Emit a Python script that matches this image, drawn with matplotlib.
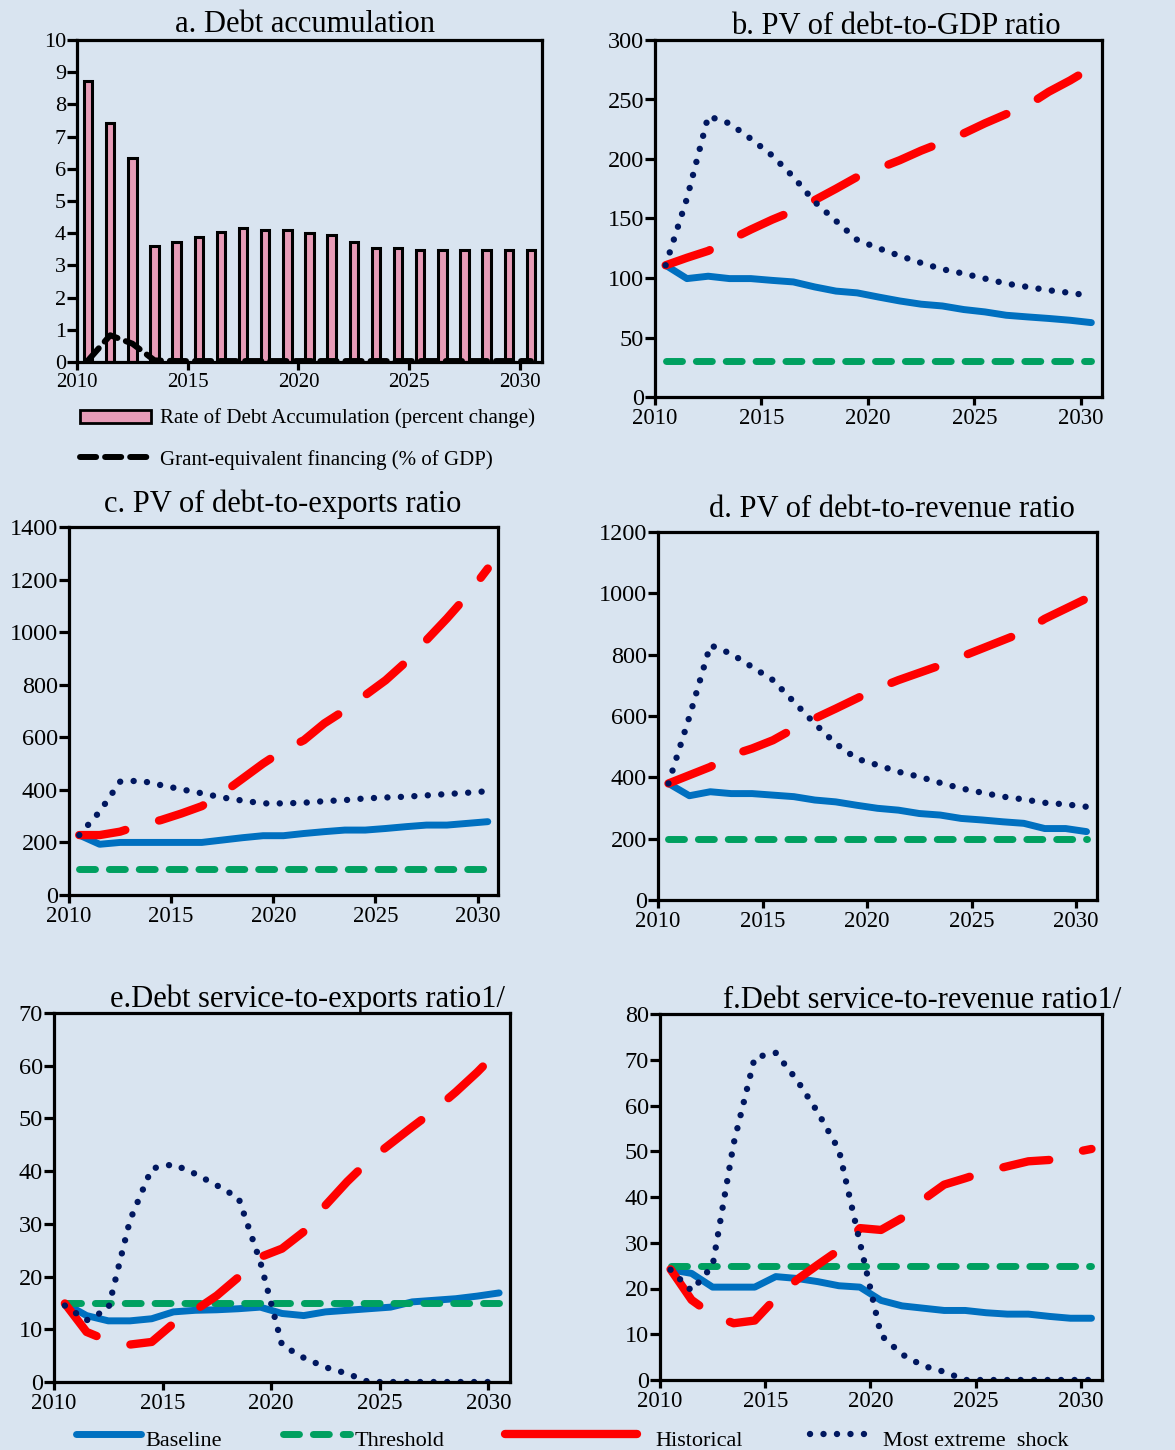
import numpy as np
import matplotlib
matplotlib.use("Agg")
import matplotlib.pyplot as plt
from matplotlib.lines import Line2D
from matplotlib.patches import Rectangle

plt.rcParams['font.family'] = ['Liberation Serif', 'DejaVu Serif']

# ---------------- data ----------------
years = np.arange(2010, 2031)
tick_years = [2010, 2015, 2020, 2025, 2030]

# a. Debt accumulation
debt_accum = [8.73, 7.41, 6.34, 3.60, 3.72, 3.89, 4.05, 4.17, 4.11, 4.11, 4.01,
              3.94, 3.72, 3.53, 3.53, 3.48, 3.48, 3.48, 3.48, 3.48, 3.48]
grant_fin = [0.05, 0.83, 0.57, 0.05, 0.03, 0.03, 0.03, 0.03, 0.03, 0.03, 0.03,
             0.03, 0.03, 0.03, 0.03, 0.03, 0.03, 0.03, 0.03, 0.03, 0.03]

# b. PV of debt-to-GDP ratio
b_base = [110.7, 99.5, 101.5, 99.5, 99.5, 98, 96.7, 92.5, 89, 87.5, 84,
          80.7, 78, 76.5, 73.5, 71.5, 68.7, 67.3, 66, 64.5, 62.5]
b_hist = [110.7, 117, 122.8, 131.8, 140.7, 149, 156.4, 165.4, 175, 185, 192,
          199, 207, 214, 221.5, 230, 237.7, 245, 256.5, 266, 276.7]
b_shock = [110.7, 166.8, 236, 229.9, 217, 203, 185, 164, 148, 132, 125,
           118.6, 112.7, 107.4, 103.7, 99.5, 95.3, 92.5, 89.7, 87.5, 85]
b_thr = 30

# c. PV of debt-to-exports ratio
c_base = [228, 193, 200, 200, 200, 200, 200, 209, 218, 225.6, 225.6,
          234, 241, 247, 247, 253, 260, 266, 266, 272.5, 279]
c_hist = [228, 228, 241, 266, 285, 310, 338, 386, 443, 500, 551,
          589, 653, 703, 760, 817, 887, 970, 1052, 1140, 1242]
c_shock = [228, 317, 431, 435, 418, 402, 387, 371, 359, 348.5, 348.5,
           351, 357, 361, 367.5, 371, 374, 379, 384, 389, 395]
c_thr = 100

# d. PV of debt-to-revenue ratio
d_base = [380, 340, 353, 347, 347, 342, 337, 326, 320, 309, 299,
          293, 282, 277, 266, 261, 255, 250, 233, 233, 223]
d_hist = [380, 407, 434, 472, 494, 521, 559, 592, 624, 657, 690,
          717, 741, 765, 793, 820, 847, 874, 917, 950, 983]
d_shock = [380, 597, 831, 803, 760, 717, 646, 575, 510, 461, 440,
           418, 402, 382, 364, 350, 337, 328, 317, 312, 304]
d_thr = 200

# e. Debt service-to-exports ratio
e_base = [14.9, 12.6, 11.6, 11.6, 12.0, 13.3, 13.6, 13.7, 13.9, 14.2, 13.0,
          12.6, 13.3, 13.6, 13.9, 14.2, 15.2, 15.5, 15.8, 16.3, 16.9]
e_hist = [14.9, 9.5, 7.8, 7.1, 7.6, 11.1, 13.6, 16.4, 19.9, 23.7, 25.3,
          28.5, 33.5, 38.0, 42.0, 45.2, 48.4, 51.5, 55.0, 58.8, 63.0]
e_shock = [14.5, 11.7, 13.9, 30.7, 40.5, 41.3, 39.5, 37.3, 34.9, 22.8, 7.0,
           4.6, 2.8, 1.6, 0, 0, 0, 0, 0, 0, 0]
e_thr = 15

# f. Debt service-to-revenue ratio
f_base = [24.1, 23.3, 20.3, 20.3, 20.3, 22.6, 22.2, 21.5, 20.6, 20.3, 17.4,
          16.2, 15.7, 15.2, 15.2, 14.7, 14.4, 14.4, 13.9, 13.5, 13.5]
f_hist = [24.2, 17.5, 14.2, 12.4, 13.0, 17.9, 21.9, 25.2, 28.4, 33.2, 32.8,
          35.4, 39.4, 42.7, 44.1, 45.6, 46.7, 47.8, 48.1, 49.6, 50.5]
f_shock = [24.1, 19.5, 25.0, 51.7, 70.5, 71.5, 65.6, 58.5, 50.3, 30.0, 9.8,
           5.6, 3.1, 1.8, 0, 0, 0, 0, 0, 0, 0]
f_thr = 25

# ---------------- styles ----------------
BG = '#D9E4F0'
C_BASE = '#0070C0'
C_THR = '#00A060'
C_HIST = '#FF0000'
C_SHOCK = '#00175F'
C_BAR = '#E79CB7'

DOTS = (0, (0.01, 2.1))
THR_DASH = (0, (2.3, 2.0))
HIST_DASH = (0, (5.6, 4.2))

W, H = 1175, 1450
fig = plt.figure(figsize=(W / 100, H / 100), dpi=100, facecolor=BG)


def box(l, r, t, b):
    return [l / W, 1 - b / H, (r - l) / W, (b - t) / H]


def fpt(x, y):
    return (x / W, 1 - y / H)


def style_axes(ax, ymax, ystep, xsize=16.5, ysize=17.5):
    ax.set_facecolor(BG)
    for s in ax.spines.values():
        s.set_linewidth(2.3)
        s.set_color('black')
        s.set_zorder(5)
    ax.set_xlim(2010, 2031)
    ax.set_xticks(tick_years)
    ax.set_xticklabels([str(y) for y in tick_years], fontsize=xsize)
    ax.set_ylim(0, ymax)
    ax.set_yticks(np.arange(0, ymax + ystep / 2, ystep))
    ax.tick_params(axis='both', direction='out', width=2.3, colors='black')
    ax.tick_params(axis='y', length=7, pad=1.0, labelsize=ysize)
    ax.tick_params(axis='x', length=6, pad=2.0)


xs = years + 0.5


def draw_lines(ax, base, thr, hist, shock):
    ax.plot(xs, base, color=C_BASE, lw=5, solid_capstyle='round',
            solid_joinstyle='round', zorder=3)
    ax.plot(xs, [thr] * len(years), color=C_THR, lw=5,
            linestyle=THR_DASH, dash_capstyle='round', zorder=3.2)
    ax.plot(xs, hist, color=C_HIST, lw=6, linestyle=HIST_DASH,
            dash_capstyle='round', dash_joinstyle='round', zorder=3.4)
    ax.plot(xs, shock, color=C_SHOCK, lw=4.6, linestyle=DOTS,
            dash_capstyle='round', zorder=3.6)


# ---------------- panel a ----------------
ax_a = fig.add_axes(box(77, 542, 40, 362))
style_axes(ax_a, 10, 1, xsize=15, ysize=16)
ax_a.bar(xs, debt_accum, width=0.38, color=C_BAR, edgecolor='black',
         linewidth=2.2, zorder=2)
ax_a.plot(xs, grant_fin, color='black', lw=4.3, linestyle=(0, (2.7, 1.5)),
          dash_capstyle='round', zorder=3)

# panel a legend
fig.add_artist(Rectangle(fpt(80, 423), 71 / W, 13 / H, transform=fig.transFigure,
                         facecolor=C_BAR, edgecolor='black', linewidth=2))
fig.text(160 / W, 1 - 423 / H, 'Rate of Debt Accumulation (percent change)',
         fontsize=15, ha='left', va='baseline')
fig.add_artist(Line2D([80 / W, 147 / W], [1 - 457 / H] * 2, transform=fig.transFigure,
                      color='black', lw=4.3, linestyle=(0, (2.7, 1.5)),
                      dash_capstyle='round'))
fig.text(160 / W, 1 - 465 / H, 'Grant-equivalent financing (% of GDP)',
         fontsize=15, ha='left', va='baseline')

# ---------------- panels b-f ----------------
ax_b = fig.add_axes(box(655, 1102, 40, 397))
style_axes(ax_b, 300, 50)
draw_lines(ax_b, b_base, b_thr, b_hist, b_shock)

ax_c = fig.add_axes(box(69, 498, 527, 895))
style_axes(ax_c, 1400, 200)
draw_lines(ax_c, c_base, c_thr, c_hist, c_shock)

ax_d = fig.add_axes(box(658, 1097, 532, 900))
style_axes(ax_d, 1200, 200)
draw_lines(ax_d, d_base, d_thr, d_hist, d_shock)

ax_e = fig.add_axes(box(54, 510, 1013, 1382))
style_axes(ax_e, 70, 10)
draw_lines(ax_e, e_base, e_thr, e_hist, e_shock)

ax_f = fig.add_axes(box(660, 1102, 1014, 1380))
style_axes(ax_f, 80, 10)
draw_lines(ax_f, f_base, f_thr, f_hist, f_shock)

# ---------------- titles ----------------
titles = [
    ('a. Debt accumulation', 305, 32),
    ('b. PV of debt-to-GDP ratio', 896, 34),
    ('c. PV of debt-to-exports ratio', 283, 512),
    ('d. PV of debt-to-revenue ratio', 892, 517),
    ('e.Debt service-to-exports ratio1/', 307, 1007),
    ('f.Debt service-to-revenue ratio1/', 922, 1008),
]
for txt, cx, by in titles:
    fig.text(cx / W, 1 - by / H, txt, fontsize=22, ha='center', va='baseline')

# ---------------- bottom legend ----------------
ly = 1 - 1434 / H
lb = 1 - 1446 / H
fig.add_artist(Line2D([76 / W, 141 / W], [ly, ly], transform=fig.transFigure,
                      color=C_BASE, lw=5, solid_capstyle='round'))
fig.text(145 / W, lb, 'Baseline', fontsize=16, ha='left', va='baseline')
fig.add_artist(Line2D([283 / W, 350 / W], [ly, ly], transform=fig.transFigure,
                      color=C_THR, lw=5, linestyle=THR_DASH,
                      dash_capstyle='round'))
fig.text(355 / W, lb, 'Threshold', fontsize=16, ha='left', va='baseline')
fig.add_artist(Line2D([505 / W, 637 / W], [ly, ly], transform=fig.transFigure,
                      color=C_HIST, lw=6, solid_capstyle='round'))
fig.text(655 / W, lb, 'Historical', fontsize=16, ha='left', va='baseline')
fig.add_artist(Line2D([810 / W, 872 / W], [ly, ly], transform=fig.transFigure,
                      color=C_SHOCK, lw=4.6, linestyle=DOTS,
                      dash_capstyle='round'))
fig.text(883 / W, lb, 'Most extreme  shock', fontsize=16, ha='left', va='baseline')

fig.savefig('out.png', dpi=100, facecolor=BG)
